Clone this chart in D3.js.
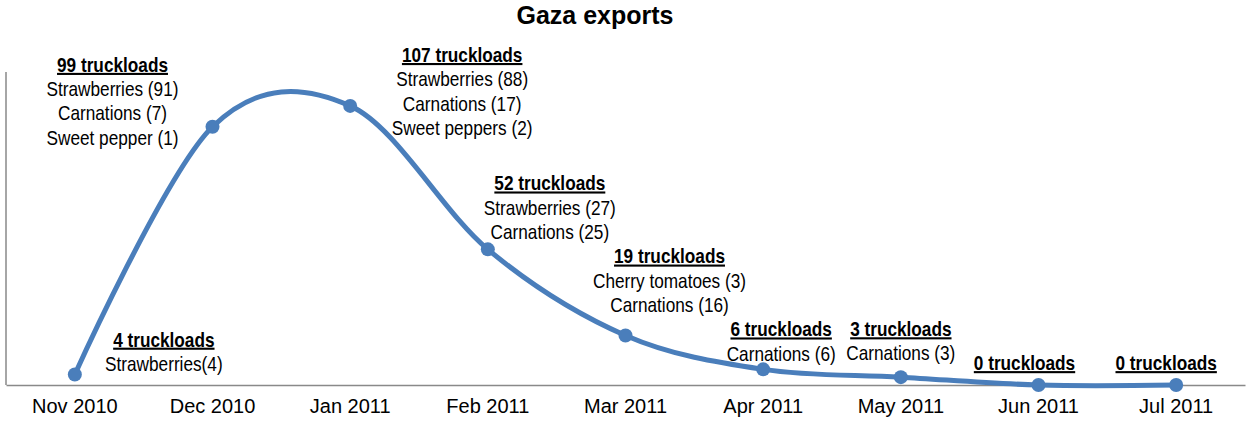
<!DOCTYPE html>
<html lang="en">
<head>
<meta charset="utf-8">
<title>Gaza exports</title>
<script src="https://d3js.org/d3.v7.min.js"></script>
<style>
  body { margin: 0; background: #fff; }
  text { font-family: "Liberation Sans", Arial, sans-serif; fill: #000; }
</style>
</head>
<body>
<div id="viz"></div>
<script>
// data
var months = ["Nov 2010", "Dec 2010", "Jan 2011", "Feb 2011", "Mar 2011",
              "Apr 2011", "May 2011", "Jun 2011", "Jul 2011"];
var truckloads = [4, 99, 107, 52, 19, 6, 3, 0, 0];
var contents = [
  ["Strawberries(4)"],
  ["Strawberries (91)", "Carnations (7)", "Sweet pepper (1)"],
  ["Strawberries (88)", "Carnations (17)", "Sweet peppers (2)"],
  ["Strawberries (27)", "Carnations (25)"],
  ["Cherry tomatoes (3)", "Carnations (16)"],
  ["Carnations (6)"],
  ["Carnations (3)"],
  [],
  []
];

// where each data label sits relative to its point (dx, dy of header baseline)
var labelOffset = [[89, -28], [-100, -55], [112, -44], [62, -59], [44, -72],
                   [18, -33], [0, -41], [-14, -15], [-10, -15]];

var width = 1251, height = 435;
var margin = {top: 72, right: 6, bottom: 50, left: 6};

var svg = d3.select("#viz").append("svg")
    .attr("width", width)
    .attr("height", height);

var x = d3.scaleBand()
    .domain(months)
    .range([margin.left, width - margin.right]);

var y = d3.scaleLinear()
    .domain([0, 120])
    .range([height - margin.bottom, margin.top]);

function cx(i) { return x(months[i]) + x.bandwidth() / 2; }

// title
svg.append("text")
    .attr("x", 595)
    .attr("y", 24)
    .attr("text-anchor", "middle")
    .style("font-size", "25px")
    .style("font-weight", "bold")
    .text("Gaza exports");

// y axis (line only)
svg.append("line")
    .attr("x1", margin.left).attr("x2", margin.left)
    .attr("y1", y(120)).attr("y2", y(0))
    .attr("stroke", "#898989")
    .attr("stroke-width", 1.5);

// x axis
var xAxis = svg.append("g")
    .attr("transform", "translate(0," + y(0) + ")")
    .call(d3.axisBottom(x).tickSize(0).tickPadding(14));
xAxis.select(".domain").attr("stroke", "#898989").attr("stroke-width", 1.5);
xAxis.selectAll("text")
    .style("font-size", "20px")
    .style("font-family", "'Liberation Sans', Arial, sans-serif")
    .attr("fill", "#000")
    .attr("dy", "0.71em");

// smoothed line
var line = d3.line()
    .x(function(d, i) { return cx(i); })
    .y(function(d) { return y(d); })
    .curve(d3.curveCardinal.tension(0));

svg.append("path")
    .datum(truckloads)
    .attr("fill", "none")
    .attr("stroke", "#4a7ebb")
    .attr("stroke-width", 5)
    .attr("stroke-linecap", "round")
    .attr("d", line);

svg.selectAll(".dot")
    .data(truckloads)
    .enter().append("circle")
    .attr("class", "dot")
    .attr("cx", function(d, i) { return cx(i); })
    .attr("cy", function(d) { return y(d); })
    .attr("r", 7)
    .attr("fill", "#4a7ebb");

// data labels (narrow text)
var lineGap = 24.3;
truckloads.forEach(function(d, i) {
  var g = svg.append("g")
      .attr("transform", "translate(" + (cx(i) + labelOffset[i][0]) + "," +
            (y(d) + labelOffset[i][1]) + ") scale(0.82,1)");
  g.append("text")
      .attr("text-anchor", "middle")
      .style("font-size", "21px")
      .style("font-weight", "bold")
      .style("text-decoration", "underline")
      .text(d + " truckloads");
  contents[i].forEach(function(t, j) {
    g.append("text")
        .attr("y", (j + 1) * lineGap)
        .attr("text-anchor", "middle")
        .style("font-size", "21px")
        .text(t);
  });
});
</script>
</body>
</html>
